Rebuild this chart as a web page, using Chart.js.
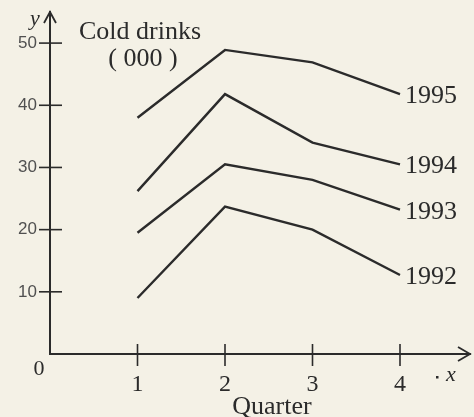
<!DOCTYPE html>
<html>
<head>
<meta charset="utf-8">
<script src="https://cdn.jsdelivr.net/npm/chart.js@4.4.1/dist/chart.umd.min.js"></script>
<style>
  html, body { margin: 0; padding: 0; background: #f4f1e6; }
  #wrap { width: 474px; height: 417px; position: relative; }
</style>
</head>
<body>
<div id="wrap"><canvas id="drinksChart"></canvas></div>
<script>
// 분기 및 연도별 판매량 (단위: 천)
const quarters = [1, 2, 3, 4];
const years = ["1992", "1993", "1994", "1995"];
const sales1992 = [9, 23.7, 20, 12.7];
const sales1993 = [19.5, 30.5, 28, 23.2];
const sales1994 = [26.2, 41.8, 34, 30.5];
const sales1995 = [38, 48.9, 46.9, 41.8];
const yTicks = [10, 20, 30, 40, 50];

const ink = "#2b2b2b";
const serif = "'Liberation Serif', 'DejaVu Serif', serif";

const allSales = [sales1992, sales1993, sales1994, sales1995];

const datasets = allSales.map((vals, i) => ({
    label: years[i],
    data: quarters.map((q, j) => ({ x: q, y: vals[j] })),
    borderColor: ink,
    borderWidth: 2.4,
    pointRadius: 0,
    tension: 0,
    fill: false,
}));

// 축 눈금, 화살표, 글자 그리기
const axisDecor = {
    id: "axisDecor",
    afterDraw(chart) {
        const { ctx, chartArea, scales } = chart;
        const x0 = chartArea.left;
        const yb = chartArea.bottom;
        ctx.save();
        ctx.strokeStyle = ink;
        ctx.fillStyle = ink;
        ctx.lineWidth = 1.6;

        // 눈금선 (축을 가로지름)
        quarters.forEach(q => {
            const px = scales.x.getPixelForValue(q);
            ctx.beginPath();
            ctx.moveTo(px, yb - 10);
            ctx.lineTo(px, yb + 12);
            ctx.stroke();
        });
        yTicks.forEach(v => {
            const py = scales.y.getPixelForValue(v);
            ctx.beginPath();
            ctx.moveTo(x0 - 11, py);
            ctx.lineTo(x0 + 12, py);
            ctx.stroke();
        });

        // 화살표
        ctx.lineWidth = 1.8;
        ctx.beginPath();
        ctx.moveTo(x0 - 6, chartArea.top + 11);
        ctx.lineTo(x0, chartArea.top);
        ctx.lineTo(x0 + 6, chartArea.top + 11);
        ctx.stroke();
        ctx.beginPath();
        ctx.moveTo(chartArea.right - 12, yb - 7);
        ctx.lineTo(chartArea.right, yb);
        ctx.lineTo(chartArea.right - 12, yb + 7);
        ctx.stroke();

        // 글자
        ctx.textBaseline = "middle";
        ctx.textAlign = "center";
        ctx.font = "26px " + serif;
        ctx.fillText("Cold drinks", 140, 32);
        ctx.fillText("( 000 )", 143, 59);
        ctx.fillText("Quarter", 272, 407);
        ctx.font = "22px " + serif;
        ctx.fillText("0", 39, 369);
        ctx.font = "italic 22px " + serif;
        ctx.fillText("y", 35, 19);
        ctx.fillText("x", 451, 375);
        ctx.fillRect(436, 376, 2.5, 2.5);

        // 연도 라벨
        ctx.textAlign = "left";
        ctx.font = "26px " + serif;
        chart.data.datasets.forEach((ds, i) => {
            const pt = chart.getDatasetMeta(i).data[ds.data.length - 1];
            ctx.fillText(ds.label, pt.x + 5, pt.y + 2);
        });
        ctx.restore();
    },
};

new Chart(document.getElementById("drinksChart"), {
    type: "line",
    data: { datasets },
    options: {
        responsive: true,
        maintainAspectRatio: false,
        animation: false,
        layout: { padding: { top: 12, right: 4, left: 0, bottom: 0 } },
        plugins: {
            legend: { display: false },
            tooltip: { enabled: false },
        },
        scales: {
            x: {
                type: "linear",
                min: 0,
                max: 4.8,
                grid: { display: false, drawTicks: false },
                border: { display: true, color: ink, width: 2 },
                ticks: {
                    stepSize: 1,
                    padding: 16,
                    color: ink,
                    font: { family: serif, size: 24 },
                    callback: v => (quarters.includes(v) ? String(v) : ""),
                },
                afterFit(scale) {
                    scale.height = 63;
                    scale.paddingLeft = 0;
                    scale.paddingRight = 0;
                },
            },
            y: {
                min: 0,
                max: 55,
                grid: { display: false, drawTicks: false },
                border: { display: true, color: ink, width: 2 },
                ticks: {
                    stepSize: 10,
                    padding: 13,
                    color: "#505050",
                    font: { family: "'Liberation Sans', sans-serif", size: 17 },
                    callback: v => (yTicks.includes(v) ? String(v) : ""),
                },
                afterFit(scale) {
                    scale.width = 50;
                    scale.paddingTop = 0;
                    scale.paddingBottom = 0;
                },
            },
        },
    },
    plugins: [axisDecor],
});
</script>
</body>
</html>
